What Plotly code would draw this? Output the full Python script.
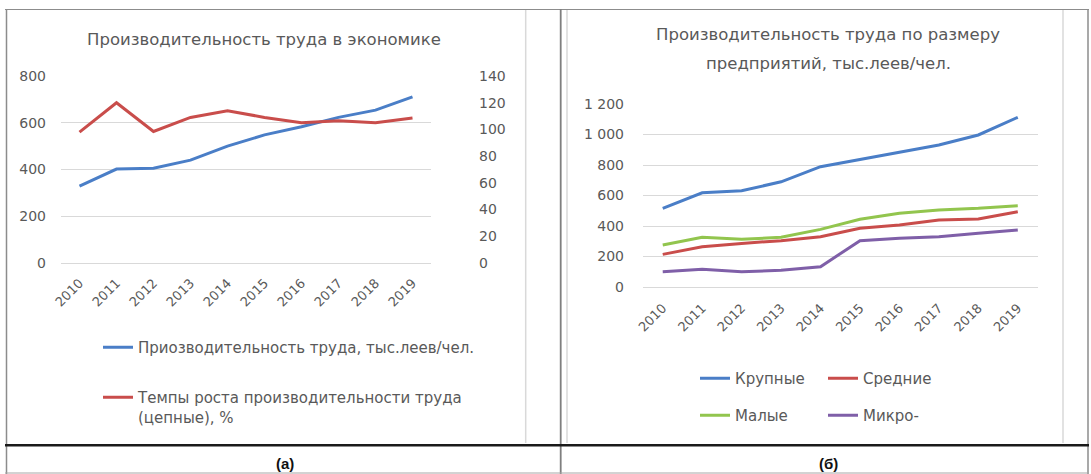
import plotly.graph_objects as go

# ---------------- data ----------------
years = ["2010", "2011", "2012", "2013", "2014", "2015", "2016", "2017", "2018", "2019"]
productivity = [329, 402, 405, 440, 500, 548, 583, 623, 654, 711]
growth_rate = [98, 120, 98.5, 109, 114, 109, 105, 106.5, 105, 108.5]
large = [516, 618, 631, 690, 789, 837, 881, 931, 997, 1113]
medium = [214, 264, 286, 304, 330, 385, 407, 439, 446, 494]
small = [275, 326, 313, 326, 378, 444, 483, 505, 516, 533]
micro = [100, 116, 100, 110, 133, 304, 319, 330, 352, 374]

W, H = 1091, 474
def X(p):
    return p / W
def Y(p):
    return 1 - p / H

BLUE = "#4A7EC7"
RED = "#C94D4B"
GREEN = "#92C54E"
PURPLE = "#7F5FA8"
GREY_TXT = "#595959"
GRID = "#D9D9D9"
FONT = "DejaVu Sans"

fig = go.Figure()

fig.add_trace(go.Scatter(x=years, y=productivity, mode="lines", xaxis="x", yaxis="y",
                         name="Приозводительность труда, тыс.леев/чел.",
                         line=dict(color=BLUE, width=3), legend="legend", showlegend=True))
fig.add_trace(go.Scatter(x=years, y=growth_rate, mode="lines", xaxis="x", yaxis="y3",
                         name="Темпы роста производительности труда<br>(цепные), %",
                         line=dict(color=RED, width=3), legend="legend2", showlegend=True))

fig.add_trace(go.Scatter(x=years, y=large, mode="lines", xaxis="x2", yaxis="y2",
                         name="Крупные", line=dict(color=BLUE, width=3), legend="legend3"))
fig.add_trace(go.Scatter(x=years, y=medium, mode="lines", xaxis="x2", yaxis="y2",
                         name="Средние", line=dict(color=RED, width=3), legend="legend3"))
fig.add_trace(go.Scatter(x=years, y=small, mode="lines", xaxis="x2", yaxis="y2",
                         name="Малые", line=dict(color=GREEN, width=3), legend="legend4"))
fig.add_trace(go.Scatter(x=years, y=micro, mode="lines", xaxis="x2", yaxis="y2",
                         name="Микро-", line=dict(color=PURPLE, width=3), legend="legend4"))

tickfont = dict(family=FONT, size=14, color=GREY_TXT)
legfont = dict(family=FONT, size=15, color=GREY_TXT)

xcommon = dict(type="category", range=[-0.5, 9.5], tickangle=-45, showgrid=False,
               showline=False, zeroline=False, ticks="", automargin=False,
               tickfont=dict(family=FONT, size=13, color=GREY_TXT), fixedrange=True)

fig.update_layout(
    width=W, height=H, autosize=False,
    margin=dict(l=0, r=0, t=0, b=0, pad=0, autoexpand=False),
    paper_bgcolor="white", plot_bgcolor="white",
    separators=", ",
    showlegend=True,
    xaxis=dict(domain=[X(61), X(431)], anchor="y", ticklabelstandoff=9, **xcommon),
    yaxis=dict(domain=[Y(263), Y(76)], range=[0, 800], dtick=200, showgrid=True,
               gridcolor=GRID, gridwidth=1, zeroline=True, zerolinecolor=GRID, zerolinewidth=1,
               showline=False, ticks="", tickfont=tickfont, ticklabelstandoff=14, automargin=False),
    yaxis3=dict(overlaying="y", side="right", anchor="x", range=[0, 140], dtick=20,
                showgrid=False, zeroline=False, showline=False, ticks="",
                tickfont=tickfont, ticklabelstandoff=47, automargin=False),
    xaxis2=dict(domain=[X(643), X(1037.5)], anchor="y2", ticklabelstandoff=10, **xcommon),
    yaxis2=dict(domain=[Y(287), Y(104)], anchor="x2", range=[0, 1200], dtick=200, tickformat=",d",
                showgrid=True, gridcolor=GRID, gridwidth=1, zeroline=True,
                zerolinecolor=GRID, zerolinewidth=1, showline=False, ticks="",
                tickfont=tickfont, ticklabelstandoff=18, automargin=False),
    legend=dict(x=X(98), y=Y(331), xanchor="left", yanchor="top", font=legfont,
                bgcolor="rgba(0,0,0,0)", borderwidth=0, valign="top"),
    legend2=dict(x=X(98), y=Y(381), xanchor="left", yanchor="top", font=legfont,
                 bgcolor="rgba(0,0,0,0)", borderwidth=0, valign="top"),
    legend3=dict(x=X(695), y=Y(362), xanchor="left", yanchor="top", orientation="h",
                 font=legfont, bgcolor="rgba(0,0,0,0)", borderwidth=0,
                 entrywidth=83, entrywidthmode="pixels"),
    legend4=dict(x=X(695), y=Y(399), xanchor="left", yanchor="top", orientation="h",
                 font=legfont, bgcolor="rgba(0,0,0,0)", borderwidth=0,
                 entrywidth=83, entrywidthmode="pixels"),
)

# titles and captions
ann = [
    dict(text="Производительность труда в экономике", x=X(264), y=Y(39)),
    dict(text="Производительность труда по размеру", x=X(828), y=Y(35)),
    dict(text="предприятий, тыс.леев/чел.", x=X(828), y=Y(63)),
]
for a in ann:
    fig.add_annotation(xref="paper", yref="paper", showarrow=False, xanchor="center",
                       yanchor="middle", font=dict(family=FONT, size=16.5, color=GREY_TXT), **a)
for txt, xc in [("(а)", 285), ("(б)", 828)]:
    fig.add_annotation(text="<b>" + txt + "</b>", xref="paper", yref="paper", x=X(xc), y=Y(463),
                       showarrow=False, xanchor="center", yanchor="middle",
                       font=dict(family="Liberation Sans", size=15, color="#111111"))

# table / chart frames
def hline(y, x0, x1, color, w):
    fig.add_shape(type="line", xref="paper", yref="paper", x0=X(x0), x1=X(x1), y0=Y(y), y1=Y(y),
                  line=dict(color=color, width=w))
def vline(x, y0, y1, color, w):
    fig.add_shape(type="line", xref="paper", yref="paper", x0=X(x), x1=X(x), y0=Y(y0), y1=Y(y1),
                  line=dict(color=color, width=w))

# inner chart frames (light)
vline(525.7, 9, 443, GRID, 1.5)
vline(567, 9, 443, GRID, 1.5)
vline(1063, 9, 443, GRID, 1.5)
# table lines
hline(9.5, 5, 1089, "#8C8C8C", 1.2)
vline(6.5, 9, 474, "#8C8C8C", 1.5)
vline(1088, 9, 474, "#8C8C8C", 1.5)
vline(560.7, 9, 474, "#7F7F7F", 1.8)
hline(445.3, 5, 1089, "#1A1A1A", 2.5)
hline(473, 5, 1089, "#A6A6A6", 1)

fig.write_html("out.html", config={"displayModeBar": False},
               post_script="document.body.style.margin='0';document.body.style.padding='0';"
                           "document.body.style.overflow='hidden';")
